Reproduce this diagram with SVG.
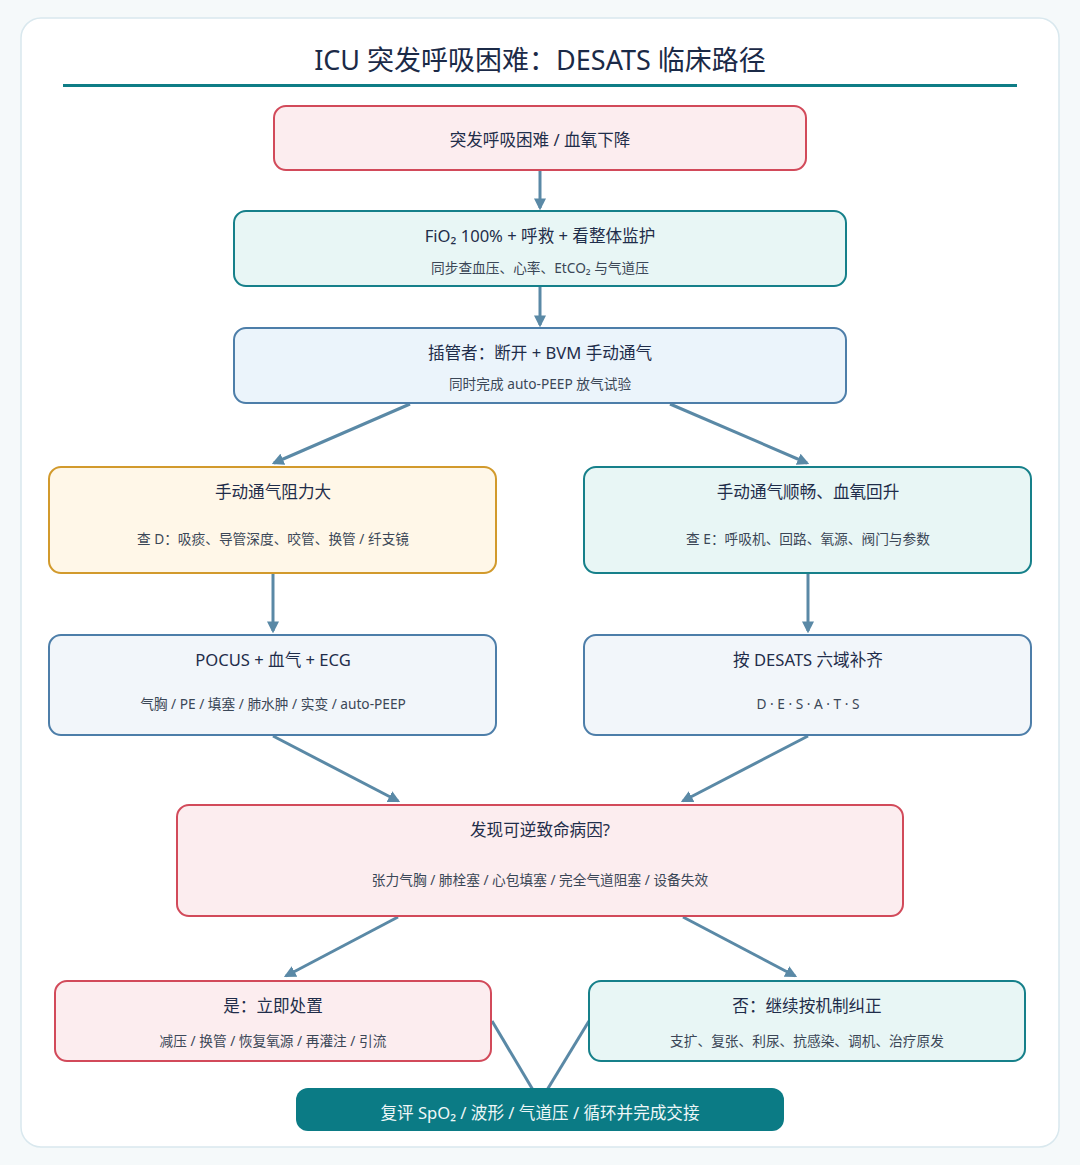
<svg xmlns="http://www.w3.org/2000/svg" width="1080" height="1165" viewBox="0 0 1080 1165">
<defs>
<marker id="ah" viewBox="0 0 10 10" refX="8" refY="5" markerWidth="4" markerHeight="4" orient="auto" markerUnits="strokeWidth">
<path d="M0,0 L10,5 L0,10 Z" fill="#5a89a6"/>
</marker>
<style>
text{font-family:"Noto Sans","Noto Sans CJK SC",sans-serif;text-anchor:middle}
.t{font-size:16.6px;fill:#1f2d4a}
.s{font-size:13.7px;fill:#3b4757}
.red{fill:#fcedef;stroke:#d24a5a;stroke-width:2}
.teal{fill:#e8f6f5;stroke:#16808a;stroke-width:2}
.blue{fill:#ebf4fb;stroke:#4d7ea9;stroke-width:2}
.blue2{fill:#f2f6fa;stroke:#4d7ea9;stroke-width:2}
.amber{fill:#fff7e8;stroke:#d29a2c;stroke-width:2}
.c{stroke:#5a89a6;stroke-width:3;fill:none}
.ca{stroke:#5a89a6;stroke-width:3;fill:none;marker-end:url(#ah)}
</style>
</defs>
<rect x="0" y="0" width="1080" height="1165" fill="#f5f9fa"/>
<rect x="21" y="18" width="1038" height="1129" rx="20" fill="#ffffff" stroke="#d9e8ee" stroke-width="1.5"/>
<text x="540" y="70" style="font-size:27px;fill:#1b2a47">ICU 突发呼吸困难：DESATS 临床路径</text>
<line x1="63" y1="85.5" x2="1017" y2="85.5" stroke="#0f7d86" stroke-width="3"/>

<g id="connectors">
<line class="ca" x1="540" y1="170" x2="540" y2="208"/>
<line class="ca" x1="540" y1="286" x2="540" y2="325"/>
<line class="ca" x1="410" y1="404" x2="274" y2="463"/>
<line class="ca" x1="670" y1="404" x2="807" y2="463"/>
<line class="ca" x1="273" y1="573" x2="273" y2="631"/>
<line class="ca" x1="808" y1="573" x2="808" y2="631"/>
<line class="ca" x1="273" y1="736" x2="398" y2="801"/>
<line class="ca" x1="808" y1="736" x2="683" y2="801"/>
<line class="ca" x1="398" y1="917" x2="286" y2="976"/>
<line class="ca" x1="683" y1="917" x2="795" y2="976"/>
<line class="c" x1="492" y1="1021" x2="533" y2="1090"/>
<line class="c" x1="589" y1="1021" x2="547" y2="1090"/>
</g>

<g id="n1">
<rect class="red" x="274" y="106" width="532" height="64" rx="12"/>
<text class="t" x="540" y="146">突发呼吸困难 / 血氧下降</text>
</g>
<g id="n2">
<rect class="teal" x="234" y="211" width="612" height="75" rx="12"/>
<text class="t" x="540" y="242">FiO₂ 100% + 呼救 + 看整体监护</text>
<text class="s" x="540" y="273">同步查血压、心率、EtCO₂ 与气道压</text>
</g>
<g id="n3">
<rect class="blue" x="234" y="328" width="612" height="75" rx="12"/>
<text class="t" x="540" y="359">插管者：断开 + BVM 手动通气</text>
<text class="s" x="540" y="389">同时完成 auto-PEEP 放气试验</text>
</g>
<g id="n4">
<rect class="amber" x="49" y="467" width="447" height="106" rx="12"/>
<text class="t" x="273" y="498">手动通气阻力大</text>
<text class="s" x="273" y="544">查 D：吸痰、导管深度、咬管、换管 / 纤支镜</text>
</g>
<g id="n5">
<rect class="teal" x="584" y="467" width="447" height="106" rx="12"/>
<text class="t" x="808" y="498">手动通气顺畅、血氧回升</text>
<text class="s" x="808" y="544">查 E：呼吸机、回路、氧源、阀门与参数</text>
</g>
<g id="n6">
<rect class="blue2" x="49" y="635" width="447" height="100" rx="12"/>
<text class="t" x="273" y="666">POCUS + 血气 + ECG</text>
<text class="s" x="273" y="709">气胸 / PE / 填塞 / 肺水肿 / 实变 / auto-PEEP</text>
</g>
<g id="n7">
<rect class="blue2" x="584" y="635" width="447" height="100" rx="12"/>
<text class="t" x="808" y="666">按 DESATS 六域补齐</text>
<text class="s" x="808" y="709">D · E · S · A · T · S</text>
</g>
<g id="n8">
<rect class="red" x="177" y="805" width="726" height="111" rx="12"/>
<text class="t" x="540" y="836">发现可逆致命病因?</text>
<text class="s" x="540" y="885">张力气胸 / 肺栓塞 / 心包填塞 / 完全气道阻塞 / 设备失效</text>
</g>
<g id="n9">
<rect class="red" x="55" y="981" width="436" height="80" rx="12"/>
<text class="t" x="273" y="1012">是：立即处置</text>
<text class="s" x="273" y="1046">减压 / 换管 / 恢复氧源 / 再灌注 / 引流</text>
</g>
<g id="n10">
<rect class="teal" x="589" y="981" width="436" height="80" rx="12"/>
<text class="t" x="807" y="1012">否：继续按机制纠正</text>
<text class="s" x="807" y="1046">支扩、复张、利尿、抗感染、调机、治疗原发</text>
</g>
<g id="n11">
<rect x="296" y="1088" width="488" height="43" rx="12" fill="#0b7b85"/>
<text x="540" y="1119" style="font-size:16.6px;fill:#eef7f8">复评 SpO₂ / 波形 / 气道压 / 循环并完成交接</text>
</g>
</svg>
